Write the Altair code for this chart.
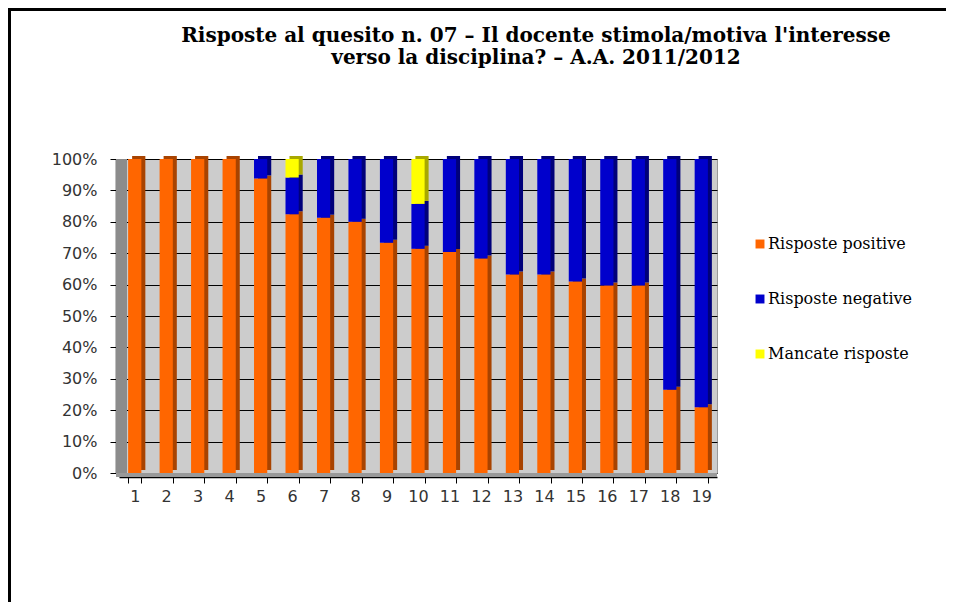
import altair as alt
import pandas as pd

categories = ["1", "2", "3", "4", "5", "6", "7", "8", "9", "10",
              "11", "12", "13", "14", "15", "16", "17", "18", "19"]
series = ["Risposte positive", "Risposte negative", "Mancate risposte"]
positive = [100, 100, 100, 100, 93.8, 82.4, 81.3, 80.0, 73.3, 71.4,
            70.4, 68.3, 63.2, 63.2, 61.0, 59.7, 59.7, 26.5, 20.9]
negative = [0, 0, 0, 0, 6.2, 11.7, 18.7, 20.0, 26.7, 14.3,
            29.6, 31.7, 36.8, 36.8, 39.0, 40.3, 40.3, 73.5, 79.1]
missing = [0, 0, 0, 0, 0, 5.9, 0, 0, 0, 14.3,
           0, 0, 0, 0, 0, 0, 0, 0, 0]
y_ticks = [0, 10, 20, 30, 40, 50, 60, 70, 80, 90, 100]

rows = []
for i, c in enumerate(categories):
    for k, (s, vals) in enumerate(zip(series, [positive, negative, missing])):
        rows.append({"cat": c, "serie": s, "ord": k, "val": vals[i]})
df = pd.DataFrame(rows)

W, H = 598, 314
front_colors = ["#FF6600", "#0000CC", "#FFFF00"]
side_colors = ["#A84300", "#00007A", "#A8A800"]

x_enc = alt.X("cat:N", sort=categories,
              scale=alt.Scale(paddingInner=0.58, paddingOuter=0.29),
              axis=alt.Axis(title=None, labelAngle=0, tickBand="extent",
                            offset=4, tickSize=6, tickColor="#000",
                            domainColor="#000", domainWidth=1.5,
                            labelFont="DejaVu Sans", labelFontSize=16,
                            labelColor="#333", labelPadding=5, grid=False))
y_enc = alt.Y("val:Q", stack="zero",
              scale=alt.Scale(domain=[0, 100], nice=False),
              axis=alt.Axis(title=None, values=y_ticks,
                            labelExpr="datum.value + '%'",
                            offset=3, tickSize=6, tickColor="#000",
                            domainColor="#000", domainWidth=1.5,
                            labelFont="DejaVu Sans", labelFontSize=16,
                            labelColor="#333", labelPadding=13,
                            grid=True, gridColor="#000", gridWidth=1))

one = alt.Data(values=[{"a": 1}])

wall = alt.Chart(one).mark_rect(color="#8C8C8C").encode(
    x=alt.value(-3), x2=alt.value(8), y=alt.value(0), y2=alt.value(H))
floor = alt.Chart(one).mark_rect(color="#999999").encode(
    x=alt.value(-3), x2=alt.value(W), y=alt.value(H), y2=alt.value(H + 4))
frame_top = alt.Chart(one).mark_rule(color="#000", strokeWidth=3).encode(
    x=alt.value(-111), x2=alt.value(W + 229), y=alt.value(-149.5))
frame_left = alt.Chart(one).mark_rule(color="#000", strokeWidth=3).encode(
    x=alt.value(-109.5), y=alt.value(-151), y2=alt.value(H + 129))

shadow = alt.Chart(df).mark_bar(xOffset=4, yOffset=-3, y2Offset=-3).encode(
    x=x_enc, y=y_enc,
    color=alt.Color("serie:N", scale=alt.Scale(domain=series, range=side_colors), legend=None),
    order=alt.Order("ord:Q", sort="ascending"))

front = alt.Chart(df).mark_bar().encode(
    x=x_enc, y=y_enc,
    color=alt.Color("serie:N", scale=alt.Scale(domain=series, range=front_colors),
                    legend=alt.Legend(title=None, orient="none", legendX=633, legendY=77,
                                      symbolType="square", symbolSize=80,
                                      symbolStrokeWidth=0, rowPadding=39,
                                      labelFont="DejaVu Serif", labelFontSize=16,
                                      labelColor="#000", labelOffset=0, padding=0)),
    order=alt.Order("ord:Q", sort="ascending"))

chart = alt.layer(wall, floor, shadow, front, frame_top, frame_left).resolve_scale(
    color="independent"
).properties(
    width=W, height=H,
    autosize=alt.AutoSizeParams(type="none"),
    padding={"left": 111, "top": 151, "right": 229, "bottom": 129},
    title=alt.Title(
        text=["Risposte al quesito n. 07 \u2013 Il docente stimola/motiva l'interesse",
              "verso la disciplina? \u2013 A.A. 2011/2012"],
        font="DejaVu Serif", fontSize=20, fontWeight="bold", color="#000",
        anchor="middle", dx=118, offset=-61, lineHeight=22),
).configure_view(fill="#CCCCCC", stroke="#999999", strokeWidth=1)

chart.save("out.html", embed_options={"renderer": "svg", "actions": False})
